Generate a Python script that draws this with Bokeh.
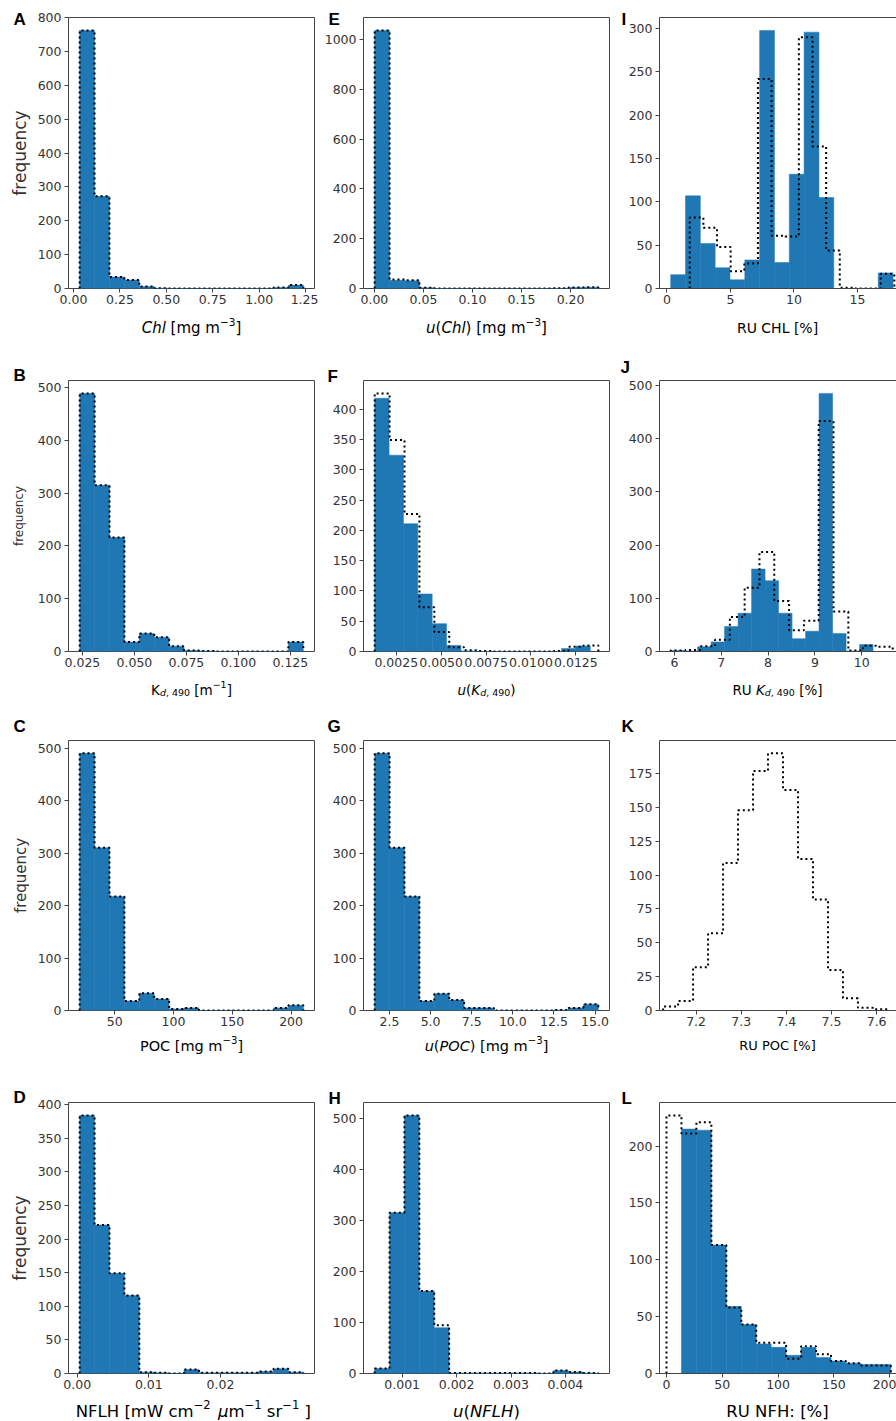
import numpy as np
from bokeh.plotting import figure
from bokeh.models import Range1d, FixedTicker, Label, LinearAxis, Title
from bokeh.layouts import column, row
from bokeh.embed import file_html
from bokeh.resources import INLINE
from bokeh.core.validation import silence
from bokeh.core.validation.warnings import MISSING_RENDERERS

silence(MISSING_RENDERERS, True)

# ------------------------------------------------------------------ data
# filled histograms ("hist") and dotted step histograms ("mc"):
# (first bin edge, last bin edge) and the counts per bin

chl_hist_range = (0.033, 1.238)
chl_hist = [762, 272, 34, 25, 6, 1, 0, 0, 0, 0, 0, 0, 0, 3, 10]
chl_mc_range = (0.033, 1.238)
chl_mc = [762, 272, 34, 25, 6, 1, 0, 0, 0, 0, 0, 0, 0, 3, 10]

uchl_hist_range = (0.0003, 0.2283)
uchl_hist = [1037, 33, 31, 3, 0, 0, 0, 0, 0, 0, 0, 0, 0, 4, 5]
uchl_mc_range = (0.0003, 0.2283)
uchl_mc = [1037, 36, 33, 3, 0, 0, 0, 0, 0, 0, 0, 0, 1, 4, 5]

ruchl_hist_range = (0.3, 17.8)
ruchl_hist = [16, 107, 52, 24, 10, 33, 298, 30, 132, 296, 105, 0, 0, 0, 18]
ruchl_mc_range = (1.8, 17.9)
ruchl_mc = [82, 70, 48, 20, 29, 242, 61, 60, 290, 164, 44, 1, 0, 0, 17]

kd_hist_range = (0.0237, 0.1312)
kd_hist = [489, 315, 216, 18, 34, 27, 10, 2, 1, 0, 0, 0, 0, 0, 18]
kd_mc_range = (0.0237, 0.1312)
kd_mc = [489, 315, 216, 18, 34, 27, 10, 2, 1, 0, 0, 0, 0, 0, 18]

ukd_hist_range = (0.0013, 0.0133)
ukd_hist = [418, 324, 211, 95, 46, 10, 1, 0, 0, 0, 0, 0, 0, 5, 9]
ukd_mc_range = (0.0013, 0.01375)
ukd_mc = [426, 349, 227, 73, 32, 7, 2, 1, 0, 0, 0, 0, 1, 8, 10]

rukd_hist_range = (5.92, 10.24)
rukd_hist = [2, 1, 9, 18, 47, 72, 155, 133, 72, 24, 38, 485, 34, 1, 13]
rukd_mc_range = (5.92, 10.66)
rukd_mc = [2, 3, 10, 22, 65, 120, 187, 95, 40, 58, 433, 75, 2, 11, 9]

poc_hist_range = (20.2, 210.4)
poc_hist = [490, 310, 217, 18, 33, 22, 3, 5, 0, 0, 0, 0, 0, 5, 10]
poc_mc_range = (20.2, 210.4)
poc_mc = [490, 310, 217, 18, 33, 22, 3, 5, 0, 0, 0, 0, 0, 5, 10]

upoc_hist_range = (1.6, 15.2)
upoc_hist = [490, 310, 217, 18, 32, 20, 5, 5, 0, 0, 0, 0, 1, 5, 12]
upoc_mc_range = (1.6, 15.2)
upoc_mc = [490, 310, 217, 18, 32, 20, 5, 5, 0, 0, 0, 0, 1, 5, 12]

rupoc_mc_range = (7.127, 7.625)
rupoc_mc = [3, 7, 32, 57, 109, 148, 177, 190, 163, 112, 82, 30, 9, 2, 1]

nflh_hist_range = (0.00035, 0.03155)
nflh_hist = [384, 221, 149, 116, 2, 1, 0, 6, 1, 1, 1, 1, 3, 7, 2]
nflh_mc_range = (0.00035, 0.03155)
nflh_mc = [384, 221, 149, 116, 2, 1, 0, 6, 1, 1, 1, 1, 3, 7, 2]

unflh_hist_range = (0.000494, 0.0046)
unflh_hist = [10, 316, 507, 162, 90, 1, 1, 1, 1, 1, 1, 0, 6, 3, 1]
unflh_mc_range = (0.000494, 0.0046)
unflh_mc = [10, 316, 507, 162, 95, 1, 1, 1, 1, 1, 1, 0, 6, 3, 1]

runflh_hist_range = (13.4, 201.0)
runflh_hist = [215, 214, 113, 59, 43, 26, 23, 16, 23, 14, 11, 9, 8, 8]
runflh_mc_range = (0.0, 201.0)
runflh_mc = [227, 211, 221, 113, 58, 43, 27, 27, 13, 24, 17, 11, 9, 7, 7]

# axis limits and ticks
chl_xlim = (-0.027, 1.298)
chl_xticks = [0.0, 0.25, 0.5, 0.75, 1.0, 1.25]
chl_xlabels = ["0.00", "0.25", "0.50", "0.75", "1.00", "1.25"]
chl_yticks = [0, 100, 200, 300, 400, 500, 600, 700, 800]

uchl_xlim = (-0.0111, 0.2397)
uchl_xticks = [0.0, 0.05, 0.1, 0.15, 0.2]
uchl_xlabels = ["0.00", "0.05", "0.10", "0.15", "0.20"]
uchl_yticks = [0, 200, 400, 600, 800, 1000]

ruchl_xlim = (-0.58, 18.07)
ruchl_xticks = [0.0, 5.0, 10.0, 15.0]
ruchl_xlabels = ["0", "5", "10", "15"]
ruchl_yticks = [0, 50, 100, 150, 200, 250, 300]

kd_xlim = (0.0183, 0.1366)
kd_xticks = [0.025, 0.05, 0.075, 0.1, 0.125]
kd_xlabels = ["0.025", "0.050", "0.075", "0.100", "0.125"]
kd_yticks = [0, 100, 200, 300, 400, 500]

ukd_xlim = (0.000677, 0.01437)
ukd_xticks = [0.0025, 0.005, 0.0075, 0.01, 0.0125]
ukd_xlabels = ["0.0025", "0.0050", "0.0075", "0.0100", "0.0125"]
ukd_yticks = [0, 50, 100, 150, 200, 250, 300, 350, 400]

rukd_xlim = (5.683, 10.74)
rukd_xticks = [6.0, 7.0, 8.0, 9.0, 10.0]
rukd_xlabels = ["6", "7", "8", "9", "10"]
rukd_yticks = [0, 100, 200, 300, 400, 500]

poc_xlim = (10.7, 219.9)
poc_xticks = [50.0, 100.0, 150.0, 200.0]
poc_xlabels = ["50", "100", "150", "200"]
poc_yticks = [0, 100, 200, 300, 400, 500]

upoc_xlim = (0.92, 15.88)
upoc_xticks = [2.5, 5.0, 7.5, 10.0, 12.5, 15.0]
upoc_xlabels = ["2.5", "5.0", "7.5", "10.0", "12.5", "15.0"]
upoc_yticks = [0, 100, 200, 300, 400, 500]

rupoc_xlim = (7.119, 7.644)
rupoc_xticks = [7.2, 7.3, 7.4, 7.5, 7.6]
rupoc_xlabels = ["7.2", "7.3", "7.4", "7.5", "7.6"]
rupoc_yticks = [0, 25, 50, 75, 100, 125, 150, 175]

nflh_xlim = (-0.00121, 0.03311)
nflh_xticks = [0.0, 0.01, 0.02]
nflh_xlabels = ["0.00", "0.01", "0.02"]
nflh_yticks = [0, 50, 100, 150, 200, 250, 300, 350, 400]

unflh_xlim = (0.000289, 0.00481)
unflh_xticks = [0.001, 0.002, 0.003, 0.004]
unflh_xlabels = ["0.001", "0.002", "0.003", "0.004"]
unflh_yticks = [0, 100, 200, 300, 400, 500]

runflh_xlim = (-6.27, 206.1)
runflh_xticks = [0.0, 50.0, 100.0, 150.0, 200.0]
runflh_xlabels = ["0", "50", "100", "150", "200"]
runflh_yticks = [0, 50, 100, 150, 200]

# ------------------------------------------------------------------ style
FONT = "DejaVu Sans"
BLUE = "#1f77b4"
FRAME = "#444444"
TICKTXT = "#333333"

COL_W = [318, 295, 283]
COL_L = [68, 45, 46]
COL_R = [4, 4, 0]
COL_CX = [191, 486, 777]
FRAME_H = 271
ROW_T = [17, 30, 30, 30]
ROW_B = 22
STRIP_H = [40, 36, 40, 26]
STRIP_Y = [23, 20, 27, 10]

# DejaVu Sans advance widths (em)
W_EM = {" ": .318, "%": .950, "(": .390, ")": .390, ",": .318, ".": .318, ":": .337,
        "[": .390, "]": .390, "−": .838, "μ": .636,
        "A": .684, "C": .698, "D": .770, "F": .575, "H": .752, "K": .656, "L": .557,
        "N": .748, "O": .787, "P": .603, "R": .695, "U": .732, "W": .989,
        "c": .550, "d": .635, "g": .635, "h": .634, "l": .278, "m": .974, "r": .411,
        "s": .521, "u": .634}
for dch in "0123456789":
    W_EM[dch] = .636


def text_w(s, size):
    return sum(W_EM.get(ch, 0.6) for ch in s) * size


def rich_label(p, parts, size, cx, y):
    segs = []
    for txt, kind in parts:
        fs = size
        dy = 0.0
        style = "normal"
        if kind in ("sup", "sub", "subi"):
            fs = size * 0.7
        if kind == "sup":
            dy = 0.40 * size
        if kind in ("sub", "subi"):
            dy = -0.22 * size
        if kind in ("i", "subi"):
            style = "italic"
        segs.append((txt, fs, dy, style))
    total = sum(text_w(t, fs) for t, fs, _, _ in segs)
    x = cx - total / 2.0
    for t, fs, dy, style in segs:
        lead = len(t) - len(t.lstrip(" "))
        trail = len(t) - len(t.rstrip(" "))
        core = t.strip(" ")
        x += lead * W_EM[" "] * fs
        if core:
            p.add_layout(Label(x=x, y=y + dy, x_units="screen", y_units="screen", text=core,
                               text_font=FONT, text_font_size=f"{fs:.2f}px",
                               text_font_style=style, text_color="black",
                               text_align="left", text_baseline="alphabetic"))
        x += text_w(core, fs) + trail * W_EM[" "] * fs


def edges_of(rng, counts):
    return np.linspace(rng[0], rng[1], len(counts) + 1)


def make_panel(ci, ri, letter, letter_dx, letter_up, xlim, xticks, xlabels, yticks,
               hist, hist_range, mc, mc_range,
               ylabel=None, ylabel_size=None, ylabel_standoff=5):
    W, L, R = COL_W[ci], COL_L[ci], COL_R[ci]
    T = ROW_T[ri]
    H = T + FRAME_H + ROW_B
    allc = (hist or []) + (mc or [])
    ymax = 1.05 * max(allc)
    p = figure(width=W, height=H, x_range=Range1d(*xlim), y_range=Range1d(0, ymax),
               output_backend="svg", toolbar_location=None, tools="",
               min_border_left=L, min_border_right=R, min_border_top=T,
               min_border_bottom=ROW_B)
    p.background_fill_color = "white"
    p.border_fill_color = "white"
    p.xgrid.visible = False
    p.ygrid.visible = False
    if hist is not None:
        e = edges_of(hist_range, hist)
        p.quad(left=e[:-1], right=e[1:], bottom=0, top=hist,
               fill_color=BLUE, line_color=BLUE, line_width=0.5)
    if mc is not None:
        e = edges_of(mc_range, mc)
        xs = [e[0]]
        ys = [0]
        for k, c in enumerate(mc):
            xs += [e[k], e[k + 1]]
            ys += [c, c]
        xs.append(e[-1])
        ys.append(0)
        p.line(xs, ys, line_color="black", line_width=2, line_dash="2 3")

    p.xaxis.ticker = FixedTicker(ticks=xticks)
    p.xaxis.major_label_overrides = {float(t): s for t, s in zip(xticks, xlabels)}
    p.yaxis.ticker = FixedTicker(ticks=yticks)
    for ax in (p.xaxis[0], p.yaxis[0]):
        ax.major_label_text_font = FONT
        ax.major_label_text_font_size = "12.5px"
        ax.major_label_text_color = TICKTXT
        ax.major_tick_line_color = FRAME
        ax.major_tick_out = 4
        ax.major_tick_in = 0
        ax.minor_tick_line_color = None
        ax.major_label_standoff = 3
        ax.axis_line_color = FRAME if ci == 2 else None
    p.xaxis.major_label_standoff = 2
    if ci == 2:
        p.outline_line_color = None
        top = LinearAxis(ticker=FixedTicker(ticks=[]), axis_line_color=FRAME,
                         major_tick_line_color=None, minor_tick_line_color=None,
                         major_tick_out=0, major_tick_in=0, major_label_standoff=0,
                         major_label_text_font_size="0px")
        p.add_layout(top, "above")
    else:
        p.outline_line_color = FRAME
        p.outline_line_width = 1

    if ylabel:
        p.yaxis.axis_label = ylabel
        p.yaxis.axis_label_text_font = FONT
        p.yaxis.axis_label_text_font_size = f"{ylabel_size}px"
        p.yaxis.axis_label_text_font_style = "normal"
        p.yaxis.axis_label_text_color = TICKTXT
        p.yaxis.axis_label_standoff = ylabel_standoff

    p.add_layout(Title(text=letter, align="left", offset=letter_dx,
                       standoff=2 * (letter_up - 4), vertical_align="bottom",
                       text_font="Liberation Sans", text_font_style="bold",
                       text_font_size="17px", text_color="black"), "above")
    return p


def make_strip(ri, items):
    h = STRIP_H[ri]
    s = figure(width=896, height=h, x_range=Range1d(0, 896), y_range=Range1d(0, h),
               output_backend="svg", toolbar_location=None, tools="",
               min_border=0, x_axis_type=None, y_axis_type=None)
    s.outline_line_color = None
    s.background_fill_color = "white"
    s.border_fill_color = "white"
    for ci, parts, size in items:
        rich_label(s, parts, size, COL_CX[ci], STRIP_Y[ri])
    return s


pA = make_panel(0, 0, "A", -55, -7, chl_xlim, chl_xticks, chl_xlabels, chl_yticks,
                chl_hist, chl_hist_range, chl_mc, chl_mc_range, "frequency", 17)
pE = make_panel(1, 0, "E", -35, -7, uchl_xlim, uchl_xticks, uchl_xlabels, uchl_yticks,
                uchl_hist, uchl_hist_range, uchl_mc, uchl_mc_range)
pI = make_panel(2, 0, "I", -38, -7, ruchl_xlim, ruchl_xticks, ruchl_xlabels, ruchl_yticks,
                ruchl_hist, ruchl_hist_range, ruchl_mc, ruchl_mc_range)

pB = make_panel(0, 1, "B", -55, 0, kd_xlim, kd_xticks, kd_xlabels, kd_yticks,
                kd_hist, kd_hist_range, kd_mc, kd_mc_range, "frequency", 12, 9)
pF = make_panel(1, 1, "F", -36, -1, ukd_xlim, ukd_xticks, ukd_xlabels, ukd_yticks,
                ukd_hist, ukd_hist_range, ukd_mc, ukd_mc_range)
pJ = make_panel(2, 1, "J", -39, 8, rukd_xlim, rukd_xticks, rukd_xlabels, rukd_yticks,
                rukd_hist, rukd_hist_range, rukd_mc, rukd_mc_range)

pC = make_panel(0, 2, "C", -55, 9, poc_xlim, poc_xticks, poc_xlabels, poc_yticks,
                poc_hist, poc_hist_range, poc_mc, poc_mc_range, "frequency", 15)
pG = make_panel(1, 2, "G", -36, 9, upoc_xlim, upoc_xticks, upoc_xlabels, upoc_yticks,
                upoc_hist, upoc_hist_range, upoc_mc, upoc_mc_range)
pK = make_panel(2, 2, "K", -38, 9, rupoc_xlim, rupoc_xticks, rupoc_xlabels, rupoc_yticks,
                None, None, rupoc_mc, rupoc_mc_range)

pD = make_panel(0, 3, "D", -55, 0, nflh_xlim, nflh_xticks, nflh_xlabels, nflh_yticks,
                nflh_hist, nflh_hist_range, nflh_mc, nflh_mc_range, "frequency", 17)
pH = make_panel(1, 3, "H", -35, -1, unflh_xlim, unflh_xticks, unflh_xlabels, unflh_yticks,
                unflh_hist, unflh_hist_range, unflh_mc, unflh_mc_range)
pL = make_panel(2, 3, "L", -38, -1, runflh_xlim, runflh_xticks, runflh_xlabels, runflh_yticks,
                runflh_hist, runflh_hist_range, runflh_mc, runflh_mc_range)

s1 = make_strip(0, [
    (0, [("Chl", "i"), (" [mg m", "n"), ("−3", "sup"), ("]", "n")], 15),
    (1, [("u", "i"), ("(", "n"), ("Chl", "i"), (")", "n"), (" [mg m", "n"),
         ("−3", "sup"), ("]", "n")], 15),
    (2, [("RU CHL [%]", "n")], 14),
])
s2 = make_strip(1, [
    (0, [("K", "n"), ("d", "subi"), (", 490", "sub"), (" [m", "n"), ("−1", "sup"),
         ("]", "n")], 13.5),
    (1, [("u", "i"), ("(", "n"), ("K", "i"), ("d", "subi"), (", 490", "sub"),
         (")", "n")], 13.5),
    (2, [("RU ", "n"), ("K", "i"), ("d", "subi"), (", 490", "sub"), (" [%]", "n")], 13.5),
])
s3 = make_strip(2, [
    (0, [("POC [mg m", "n"), ("−3", "sup"), ("]", "n")], 14.5),
    (1, [("u", "i"), ("(", "n"), ("POC", "i"), (")", "n"), (" [mg m", "n"),
         ("−3", "sup"), ("]", "n")], 14.5),
    (2, [("RU POC [%]", "n")], 13),
])
s4 = make_strip(3, [
    (0, [("NFLH [mW cm", "n"), ("−2", "sup"), (" ", "sup"), ("μ", "i"), ("m", "n"),
         ("−1", "sup"), (" sr", "n"), ("−1", "sup"), (" ]", "n")], 16.5),
    (1, [("u", "i"), ("(", "n"), ("NFLH", "i"), (")", "n")], 16.5),
    (2, [("RU NFH: [%]", "n")], 16.5),
])

layout = column(row(pA, pE, pI), s1, row(pB, pF, pJ), s2,
                row(pC, pG, pK), s3, row(pD, pH, pL), s4)

open("out.html", "w").write(file_html(layout, INLINE))
